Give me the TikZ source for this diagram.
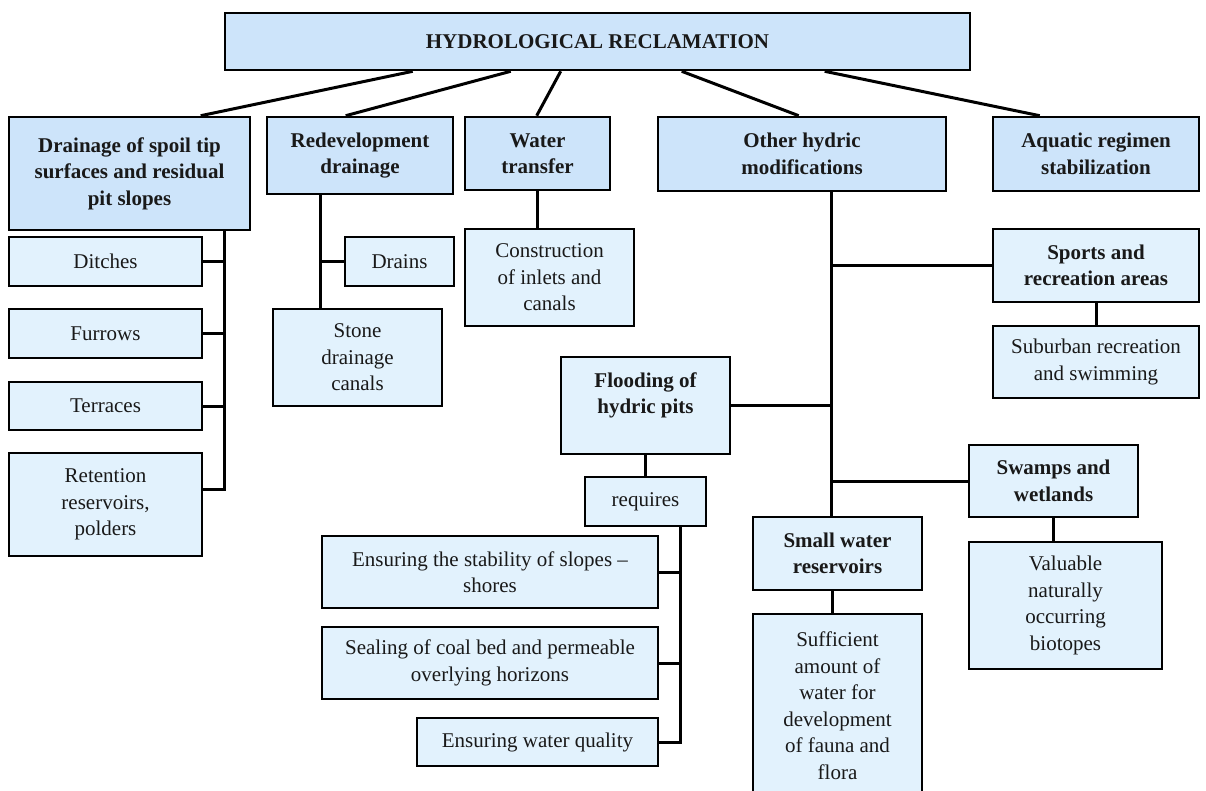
\documentclass[tikz,border=0pt]{standalone}
\usepackage{fontspec}
\setmainfont{Liberation Serif}
\usetikzlibrary{calc}
\definecolor{lvlone}{RGB}{205,228,250}
\definecolor{lvltwo}{RGB}{226,242,253}
\definecolor{ink}{RGB}{25,25,25}
\tikzset{
  bx/.style={draw=black, line width=2.6pt, fill=lvltwo, inner sep=0pt, align=center,
    font=\fontsize{21}{26.5}\selectfont, text=ink},
  hb/.style={bx, fill=lvlone, font=\fontsize{21}{26.5}\selectfont\bfseries},
  hl/.style={bx, font=\fontsize{21}{26.5}\selectfont\bfseries},
  txtonly/.style={inner sep=0pt, align=center, font=\fontsize{21}{26.5}\selectfont\bfseries, text=ink},
  link/.style={draw=black, line width=3pt},
}
\newcommand\mybox[7]{\node[#1, minimum width={(#4)-(#3)}, minimum height={(#6)-(#5)}] (#2) at ({((#3)+(#4))/2},{((#5)+(#6))/2}) {#7};}
\begin{document}
\begin{tikzpicture}[x=1pt,y=-1pt]
\useasboundingbox (0,0) rectangle (1206,790);
\clip (0,0) rectangle (1206,790);
% level 0 and 1
\mybox{hb}{top}{225}{970}{13}{70}{HYDROLOGICAL RECLAMATION}
\mybox{hb}{drain}{9}{250}{117}{230}{Drainage of spoil tip\\surfaces and residual\\pit slopes}
\mybox{hb}{redev}{267}{453}{117}{194}{Redevelopment\\drainage}
\mybox{hb}{water}{465}{610}{117}{190}{Water\\transfer}
\mybox{hb}{other}{658}{946}{117}{191}{Other hydric\\modifications}
\mybox{hb}{aqua}{993}{1199}{117}{191}{Aquatic regimen\\stabilization}
% drainage children
\mybox{bx}{ditch}{9}{202}{237}{286}{Ditches}
\mybox{bx}{furrow}{9}{202}{309}{358}{Furrows}
\mybox{bx}{terr}{9}{202}{382}{430}{Terraces}
\mybox{bx}{ret}{9}{202}{453}{556}{Retention\\reservoirs,\\polders}
% redevelopment children
\mybox{bx}{drains}{345}{454}{237}{286}{Drains}
\mybox{bx}{stone}{273}{442}{309}{406}{Stone\\drainage\\canals}
% water transfer child
\mybox{bx}{cons}{465}{634}{229}{326}{Construction\\of inlets and\\canals}
% other hydric children
\mybox{hl}{sports}{993}{1199}{229}{302}{Sports and\\recreation areas}
\mybox{bx}{suburb}{993}{1199}{326}{398}{Suburban recreation\\and swimming}
\mybox{hl}{flood}{561}{730}{357}{454}{}
\node[txtonly] (floodtxt) at ([yshift=10pt]flood.center) {Flooding of\\hydric pits};
\mybox{bx}{req}{585}{706}{477}{526}{requires}
\mybox{hl}{swamps}{969}{1138}{445}{517}{Swamps and\\wetlands}
\mybox{bx}{valu}{969}{1162}{542}{669}{Valuable\\naturally\\occurring\\biotopes}
\mybox{hl}{small}{753}{922}{517}{590}{Small water\\reservoirs}
\mybox{bx}{suff}{753}{922}{614}{797}{Sufficient\\amount of\\water for\\development\\of fauna and\\flora}
\mybox{bx}{stab}{322}{658}{536}{608}{Ensuring the stability of slopes –\\shores}
\mybox{bx}{seal}{322}{658}{627}{699}{Sealing of coal bed and permeable\\overlying horizons}
\mybox{bx}{wq}{417}{658}{718}{766}{Ensuring water quality}
% connectors from the top box
\draw[link] ([xshift=189pt]top.south west) -- ([xshift=193pt]drain.north west);
\draw[link] ([xshift=287pt]top.south west) -- ([xshift=80pt]redev.north west);
\draw[link] ([xshift=337pt]top.south west) -- ([xshift=73pt]water.north west);
\draw[link] ([xshift=458pt]top.south west) -- ([xshift=142pt]other.north west);
\draw[link] ([xshift=601pt]top.south west) -- ([xshift=48pt]aqua.north west);
% drainage tree
\coordinate (dtr) at ([xshift=217pt]drain.south west);
\draw[link] (dtr) |- ([yshift=15.5pt]ret.east);
\draw[link] (ditch.east) -- (ditch.east -| dtr);
\draw[link] (furrow.east) -- (furrow.east -| dtr);
\draw[link] (terr.east) -- (terr.east -| dtr);
% redevelopment tree
\coordinate (rtr) at ([xshift=55pt]redev.south west);
\draw[link] (rtr) -- (rtr |- stone.north);
\draw[link] (drains.west) -- (drains.west -| rtr);
% water transfer
\draw[link] (water.south) -- (water.south |- cons.north);
% other hydric tree
\coordinate (otr) at ([xshift=175pt]other.south west);
\draw[link] (otr) -- (otr |- small.north);
\draw[link] (sports.west) -- (sports.west -| otr);
\draw[link] (flood.east) -- (flood.east -| otr);
\draw[link] (swamps.west) -- (swamps.west -| otr);
\draw[link] ([xshift=81pt]small.south west) -- ([xshift=81pt]suff.north west);
\draw[link] (sports.south) -- (suburb.north);
\draw[link] (swamps.south) -- (swamps.south |- valu.north);
% flooding tree
\draw[link] (flood.south) -- (req.north);
\coordinate (qtr) at ([xshift=97pt]req.south west);
\draw[link] (qtr) |- (wq.east);
\draw[link] (stab.east) -- (stab.east -| qtr);
\draw[link] (seal.east) -- (seal.east -| qtr);
\end{tikzpicture}
\end{document}
